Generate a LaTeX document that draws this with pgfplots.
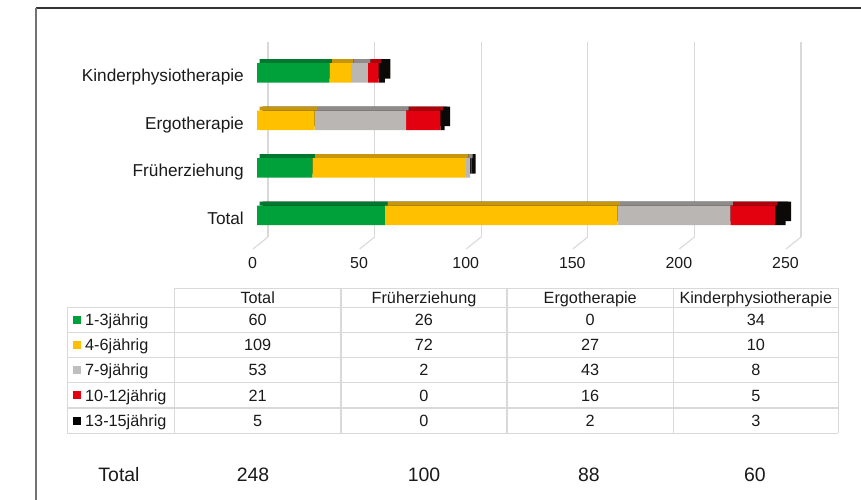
\documentclass[border=0pt]{standalone}
\usepackage{pgfplots}
\usepackage{pgfplotstable}
\pgfplotsset{compat=1.18}
\usepackage{fontspec}
\setmainfont{Liberation Sans}

\definecolor{cG}{HTML}{00A13A}
\definecolor{cY}{HTML}{FFC000}
\definecolor{cS}{HTML}{BAB6B4}
\definecolor{cR}{HTML}{E3000F}
\definecolor{cK}{HTML}{0C0A08}
\definecolor{cGt}{HTML}{00782F}
\definecolor{cYt}{HTML}{C8960A}
\definecolor{cSt}{HTML}{8E8B8A}
\definecolor{cRt}{HTML}{B0000C}
\definecolor{cGrid}{HTML}{D9D9D9}
\definecolor{cTxt}{HTML}{1A1A1A}

% rows: 0 = Total, 1 = Frueherziehung, 2 = Ergotherapie, 3 = Kinderphysiotherapie
% a = 1-3jaehrig, b = 4-6jaehrig, c = 7-9jaehrig, d = 10-12jaehrig, e = 13-15jaehrig
\pgfplotstableread{
cat a b c d e
0 60 109 53 21 5
1 26 72 2 0 0
2 0 27 43 16 2
3 34 10 8 5 3
}\data

\pgfplotsset{
 barax/.style={scale only axis, width=533bp, height=190bp, anchor=south west,
   xmin=0, xmax=250, ymin=-0.5, ymax=3.5, xbar stacked, bar width=19.5bp,
   axis line style={draw=none}, tick style={draw=none}, xtick=\empty, ytick=\empty,
   clip=false},
 gridax/.style={axis line style={draw=none}, tick style={draw=none},
   xtick={0,50,100,150,200,250}, xticklabels={}, ytick=\empty,
   xmajorgrids, grid style={draw=cGrid, line width=1.1bp},
   xmin=0, xmax=250, ymin=0, ymax=1},
}

\begin{document}
\begin{tikzpicture}
\useasboundingbox (0bp,0bp) rectangle (861bp,500bp);

% frame
\draw[black!80, line width=1.2bp] (36bp,492bp) -- (861bp,492bp);
\draw[black!55, line width=1.2bp] (36bp,492bp) -- (36bp,0bp);

% back wall gridlines
\begin{axis}[gridax, scale only axis, width=533bp, height=195bp, at={(268bp,263bp)}, anchor=south west]
\addplot[draw=none] coordinates {(0,0)};
\end{axis}

% floor gridlines (skewed)
\begin{axis}[gridax, x={(2.132bp,0bp)}, y={(15bp,12bp)}, anchor=origin, at={(253bp,251bp)}]
\addplot[draw=none] coordinates {(0,0)};
\end{axis}

% back (side) faces
\begin{axis}[barax, at={(262.5bp,264.95bp)}]
\addplot[fill=cK, draw=none] table[x=a, y=cat] {\data};
\addplot[fill=cK, draw=none] table[x=b, y=cat] {\data};
\addplot[fill=cK, draw=none] table[x=c, y=cat] {\data};
\addplot[fill=cK, draw=none] table[x=d, y=cat] {\data};
\addplot[fill=cK, draw=none] table[x=e, y=cat] {\data};
\end{axis}

% top faces
\begin{axis}[barax, at={(259.5bp,260.95bp)}, bar width=4bp, bar shift=11.75bp]
\addplot[fill=cGt, draw=none] table[x=a, y=cat] {\data};
\addplot[fill=cYt, draw=none] table[x=b, y=cat] {\data};
\addplot[fill=cSt, draw=none] table[x=c, y=cat] {\data};
\addplot[fill=cRt, draw=none] table[x=d, y=cat] {\data};
\addplot[fill=cK, draw=none] table[x=e, y=cat] {\data};
\end{axis}

% front faces
\begin{axis}[barax, at={(257bp,260.95bp)},
  xtick={0,50,100,150,200,250}, xticklabels={0,50,100,150,200,250},
  ytick={0,1,2,3}, yticklabels={Total,Früherziehung,Ergotherapie,Kinderphysiotherapie},
  xticklabel style={anchor=base, inner sep=0pt, yshift=-29.6bp, xshift=-4.5bp,
     font=\fontsize{16}{19}\selectfont, text=cTxt},
  yticklabel style={anchor=base east, inner sep=0pt, yshift=-9.2bp, xshift=-13bp,
     font=\fontsize{17.3}{20}\selectfont, text=cTxt}]
\addplot[fill=cG, draw=none] table[x=a, y=cat] {\data};
\addplot[fill=cY, draw=none] table[x=b, y=cat] {\data};
\addplot[fill=cS, draw=none] table[x=c, y=cat] {\data};
\addplot[fill=cR, draw=none] table[x=d, y=cat] {\data};
\addplot[fill=cK, draw=none] table[x=e, y=cat] {\data};
\end{axis}

% data table (image pixel coordinates)
\begin{scope}[shift={(0bp,500bp)}, x=1bp, y=-1bp]
 \draw[cGrid, line width=1.2bp] (174.3,288.3) -- (838.3,288.3);
 \foreach \yy in {307.3,332.5,357.7,382.9,408.1,433.3}
   \draw[cGrid, line width=1.2bp] (67.3,\yy) -- (838.3,\yy);
 \draw[cGrid, line width=1.2bp] (67.3,307.3) -- (67.3,433.3);
 \foreach \xx in {174.3,341,507,673.3,838.3}
   \draw[cGrid, line width=1.2bp] (\xx,288.3) -- (\xx,433.3);

 \tikzset{tt/.style={anchor=base, inner sep=0pt, font=\fontsize{16.3}{19}\selectfont, text=cTxt}}
 % header
 \node[tt] at (257.7,303.2) {Total};
 \node[tt] at (424,303.2) {Früherziehung};
 \node[tt] at (590.2,303.2) {Ergotherapie};
 \node[tt] at (755.8,303.2) {Kinderphysiotherapie};

 % legend squares and labels
 \fill[cG] (72.7,315.9) rectangle (80.7,323.9);
 \fill[cY] (72.7,341.1) rectangle (80.7,349.1);
 \fill[black!25] (72.7,366.3) rectangle (80.7,374.3);
 \fill[cR] (72.7,391.5) rectangle (80.7,399.5);
 \fill[black] (72.7,416.7) rectangle (80.7,424.7);
 \node[tt, anchor=base west] at (85,325.6) {1-3jährig};
 \node[tt, anchor=base west] at (85,350.8) {4-6jährig};
 \node[tt, anchor=base west] at (85,376.0) {7-9jährig};
 \node[tt, anchor=base west] at (85,401.2) {10-12jährig};
 \node[tt, anchor=base west] at (85,426.4) {13-15jährig};

 % values
 \node[tt] at (257.7,325.6) {60};  \node[tt] at (424,325.6) {26};
 \node[tt] at (590.2,325.6) {0};   \node[tt] at (755.8,325.6) {34};
 \node[tt] at (257.7,350.8) {109}; \node[tt] at (424,350.8) {72};
 \node[tt] at (590.2,350.8) {27};  \node[tt] at (755.8,350.8) {10};
 \node[tt] at (257.7,376.0) {53};  \node[tt] at (424,376.0) {2};
 \node[tt] at (590.2,376.0) {43};  \node[tt] at (755.8,376.0) {8};
 \node[tt] at (257.7,401.2) {21};  \node[tt] at (424,401.2) {0};
 \node[tt] at (590.2,401.2) {16};  \node[tt] at (755.8,401.2) {5};
 \node[tt] at (257.7,426.4) {5};   \node[tt] at (424,426.4) {0};
 \node[tt] at (590.2,426.4) {2};   \node[tt] at (755.8,426.4) {3};

 % totals row
 \tikzset{tb/.style={anchor=base, inner sep=0pt, font=\fontsize{19.5}{23}\selectfont, text=cTxt}}
 \node[tb, anchor=base west] at (98.3,482) {Total};
 \node[tb] at (253,482) {248};
 \node[tb] at (424,482) {100};
 \node[tb] at (589,482) {88};
 \node[tb] at (755,482) {60};
\end{scope}
\end{tikzpicture}
\end{document}
